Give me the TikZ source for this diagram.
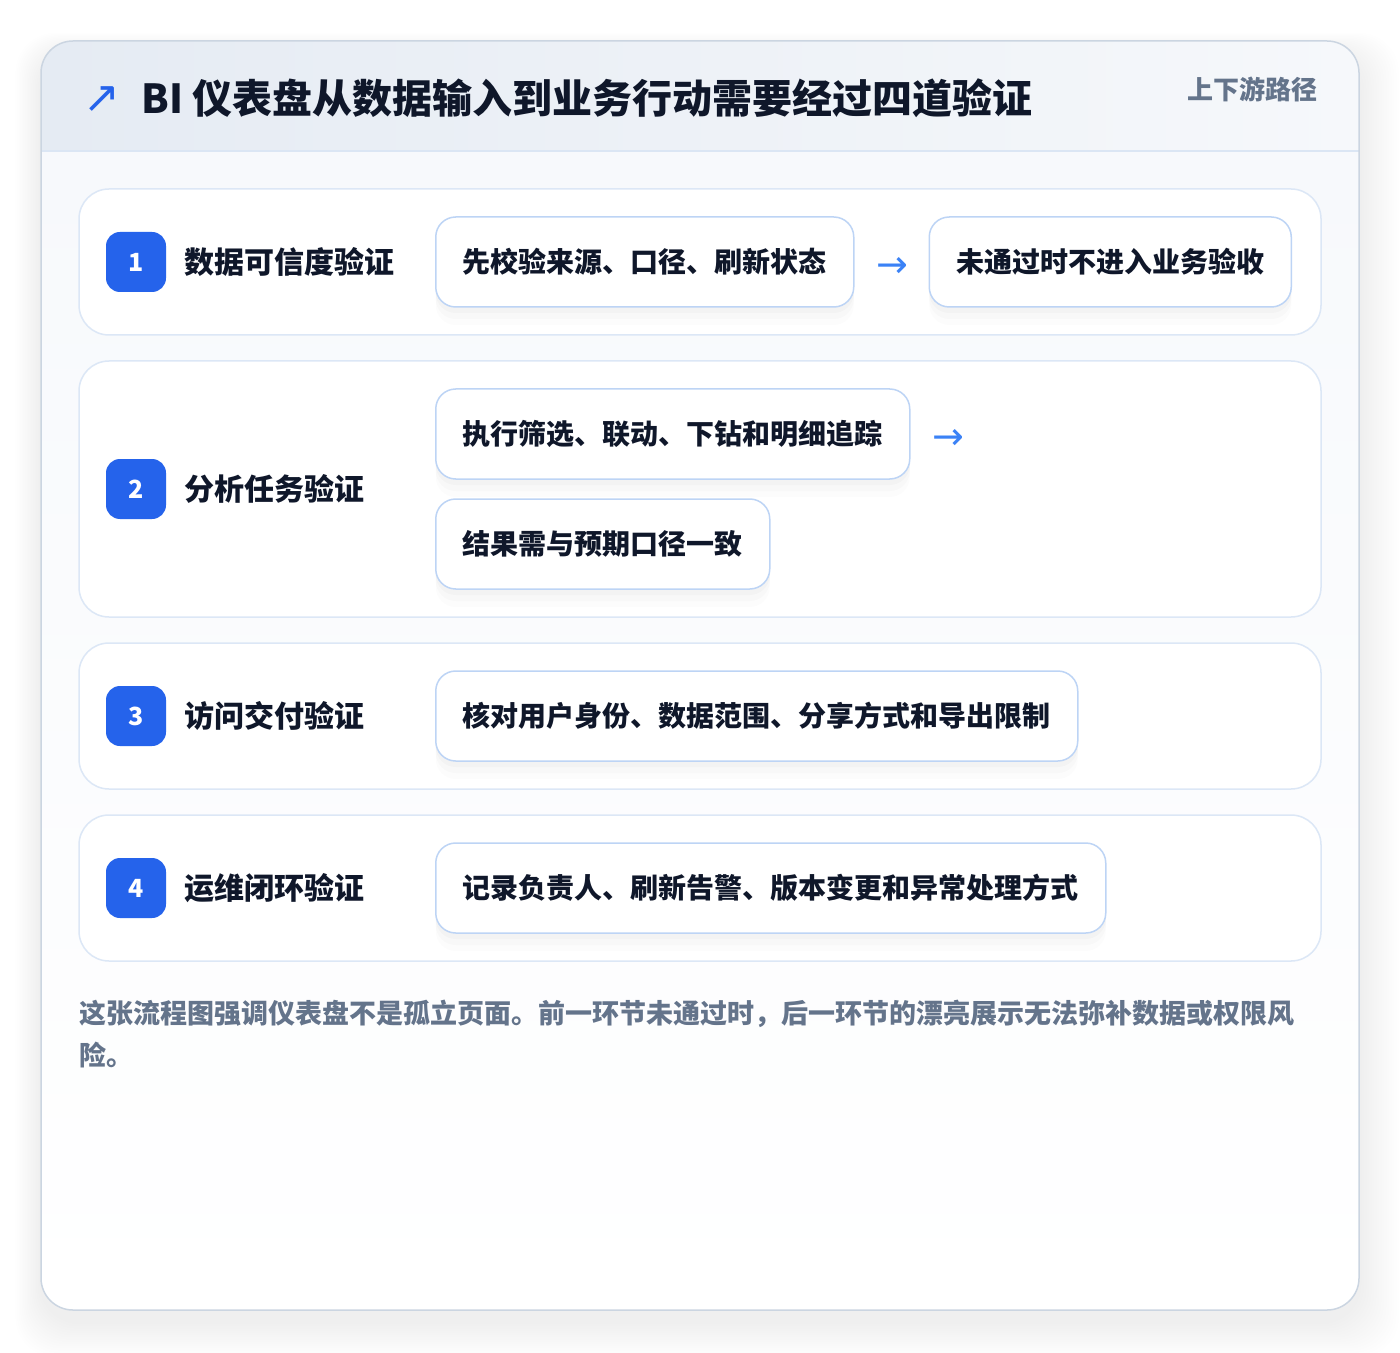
\documentclass[tikz,border=0pt]{standalone}
\usepackage{fontspec}
\setmainfont{Noto Sans CJK SC}
\newfontfamily\symfont{DejaVu Sans}
\usetikzlibrary{positioning,shadows}

\definecolor{titleink}{HTML}{0F172A}
\definecolor{slateink}{HTML}{64748B}
\definecolor{badgeblue}{HTML}{2563EB}
\definecolor{arrowblue}{HTML}{3B82F6}
\definecolor{panelline}{HTML}{DCE7F6}
\definecolor{boxline}{HTML}{BDD4F5}
\definecolor{cardline}{HTML}{CBD5E1}
\definecolor{headleft}{HTML}{E5EBF3}
\definecolor{headright}{HTML}{F6F8FB}
\definecolor{headrule}{HTML}{DBE6F4}
\definecolor{bodytop}{HTML}{F7F9FC}

\tikzset{
	panel/.style={draw=panelline, line width=0.75pt, fill=white, rounded corners=15pt},
	badge/.style={fill=badgeblue, rounded corners=7pt, minimum size=30pt, inner sep=0pt,
		text=white, font=\bfseries\fontsize{12.5}{12.5}\selectfont},
	rowlabel/.style={anchor=west, inner sep=0pt, text=titleink,
		font=\bfseries\fontsize{15}{15}\selectfont},
	stepbox/.style={draw=boxline, line width=0.75pt, fill=white, rounded corners=10pt,
		minimum height=45pt, inner xsep=13.5pt, inner ysep=0pt, anchor=west, text=titleink,
		font=\bfseries\fontsize{14}{14}\selectfont,
		drop shadow={shadow xshift=0pt, shadow yshift=-3pt, opacity=0.02, fill=black},
		drop shadow={shadow xshift=0pt, shadow yshift=-6pt, opacity=0.015, fill=black},
		drop shadow={shadow xshift=0pt, shadow yshift=-9pt, opacity=0.01, fill=black}},
	flowarrow/.style={inner sep=0pt, text=arrowblue, font=\symfont\fontsize{19}{19}\selectfont},
}

\begin{document}
\begin{tikzpicture}[x=0.5pt, y=-0.5pt]
	\useasboundingbox[fill=white] (0,0) rectangle (1400,1352);

	% soft shadow under the card
	\foreach \s in {1,...,16}
		\fill[black, opacity=0.005, rounded corners=20pt] (41-1.6*\s, 52-1.2*\s) rectangle (1359+2.5*\s, 1322+2.2*\s);

	% card with header band
	\begin{scope}
		\clip[rounded corners=16pt] (41,41) rectangle (1359,1310);
		\shade[top color=bodytop, bottom color=white] (41,151) rectangle (1359,1310);
		\shade[left color=headleft, right color=headright] (41,41) rectangle (1359,151);
		\draw[headrule, line width=0.75pt] (41,151) -- (1359,151);
	\end{scope}
	\draw[cardline, line width=0.75pt, rounded corners=16pt] (41,41) rectangle (1359,1310);

	\node[inner sep=0pt, text=badgeblue, font=\symfont\fontsize{22}{22}\selectfont] (trend) at (102,100) {↗};
	\node[anchor=west, inner sep=0pt, text=titleink, font=\bfseries\fontsize{20}{20}\selectfont] (title) at (141,98) {BI 仪表盘从数据输入到业务行动需要经过四道验证};
	\node[anchor=east, inner sep=0pt, text=slateink, font=\bfseries\fontsize{13}{13}\selectfont] (tag) at (1318,89) {上下游路径};

	% the four rows
	\foreach \top/\bot/\mid/\n/\lab in {189/335/262/1/数据可信度验证, 361/617/489/2/分析任务验证, 643/789/716/3/访问交付验证, 815/961/888/4/运维闭环验证} {
		\draw[panel] (79,\top) rectangle (1321,\bot);
		\node[badge] (badge\n) at (136,\mid) {\n};
		\node[rowlabel] (label\n) at (184,\mid) {\lab};
	}

	\node[stepbox] (check1) at (435,262) {先校验来源、口径、刷新状态};
	\node[flowarrow, right=11pt of check1, yshift=-2.5pt] (arrow1) {→};
	\node[stepbox, right=37pt of check1] (gate1) {未通过时不进入业务验收};

	\node[stepbox] (drill2) at (435,434) {执行筛选、联动、下钻和明细追踪};
	\node[flowarrow, right=11pt of drill2, yshift=-2.5pt] (arrow2) {→};
	\node[stepbox] (match2) at (435,544) {结果需与预期口径一致};

	\node[stepbox] (access3) at (435,716) {核对用户身份、数据范围、分享方式和导出限制};

	\node[stepbox] (owner4) at (435,888) {记录负责人、刷新告警、版本变更和异常处理方式};

	\node[anchor=north west, inner sep=0pt, align=left, text=slateink, font=\bfseries\fontsize{13.5}{21}\selectfont] (note) at (79,1000) {这张流程图强调仪表盘不是孤立页面。前一环节未通过时，后一环节的漂亮展示无法弥补数据或权限风\\险。};
\end{tikzpicture}
\end{document}
